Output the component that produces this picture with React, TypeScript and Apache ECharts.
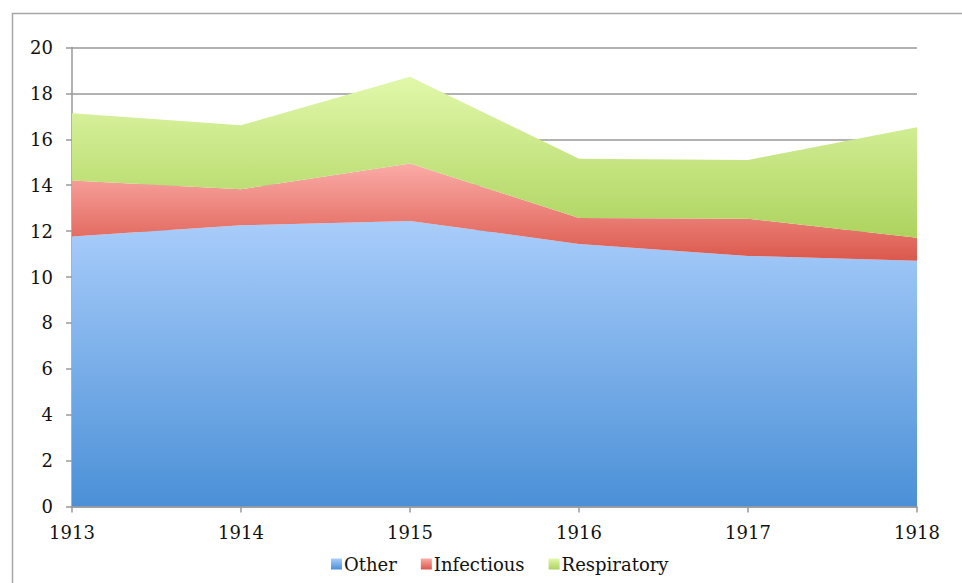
import React, { useEffect, useRef } from "react";
import * as echarts from "echarts";

const years = ["1913", "1914", "1915", "1916", "1917", "1918"];
const other = [11.76, 12.25, 12.44, 11.44, 10.92, 10.71];
const infectious = [2.44, 1.57, 2.51, 1.13, 1.62, 1.0];
const respiratory = [2.93, 2.79, 3.78, 2.58, 2.56, 4.81];
const seriesNames = ["Other", "Infectious", "Respiratory"];

const FONT = "DejaVu Serif";

const grad = (top: string, bottom: string) =>
  new echarts.graphic.LinearGradient(0, 0, 0, 1, [
    { offset: 0, color: top },
    { offset: 1, color: bottom },
  ]);

export default function App() {
  const ref = useRef<HTMLDivElement>(null);
  useEffect(() => {
    if (!ref.current) return;
    const chart = echarts.init(ref.current, null, { renderer: "svg" });
    const colors = [
      grad("#a9cdfb", "#4b90d7"),
      grad("#fbaba7", "#db584c"),
      grad("#e1f8aa", "#add35e"),
    ];
    const datasets = [other, infectious, respiratory];
    chart.setOption({
      animation: false,
      backgroundColor: "#ffffff",
      graphic: [
        {
          type: "rect",
          shape: { x: 12.5, y: 13.5, width: 1200, height: 1200 },
          style: { fill: "none", stroke: "#a6a6a6", lineWidth: 1.5 },
          silent: true,
        },
      ],
      grid: { left: 72, right: 45, top: 47.5, bottom: 76.5 },
      legend: {
        top: 550,
        left: 326,
        icon: "rect",
        itemWidth: 11,
        itemHeight: 11,
        itemGap: 24,
        textStyle: { fontFamily: FONT, fontSize: 18, color: "#111", padding: [0, 0, 0, -3] },
        data: seriesNames,
      },
      xAxis: {
        type: "category",
        data: years,
        boundaryGap: false,
        axisLine: { lineStyle: { color: "#999999", width: 1.5 } },
        axisTick: { show: true, length: 6, alignWithLabel: true, lineStyle: { color: "#999999", width: 1.5 } },
        axisLabel: { fontFamily: FONT, fontSize: 18, color: "#111", margin: 17 },
        splitLine: { show: false },
      },
      yAxis: {
        type: "value",
        min: 0,
        max: 20,
        interval: 2,
        axisLine: { show: true, lineStyle: { color: "#999999", width: 1.5 } },
        axisTick: { show: true, length: 6, lineStyle: { color: "#999999", width: 1.5 } },
        axisLabel: { fontFamily: FONT, fontSize: 18, color: "#111", margin: 19 },
        splitLine: { show: true, lineStyle: { color: "#999999", width: 1.5 } },
      },
      series: seriesNames.map((name, i) => ({
        name,
        type: "line",
        stack: "total",
        data: datasets[i],
        symbol: "none",
        showSymbol: false,
        lineStyle: { width: 0 },
        itemStyle: { color: colors[i] },
        areaStyle: { color: colors[i], opacity: 1 },
      })),
    });
    return () => chart.dispose();
  }, []);
  return (
    <div
      ref={ref}
      style={{ position: "fixed", left: 0, top: 0, width: 962, height: 583 }}
    />
  );
}
